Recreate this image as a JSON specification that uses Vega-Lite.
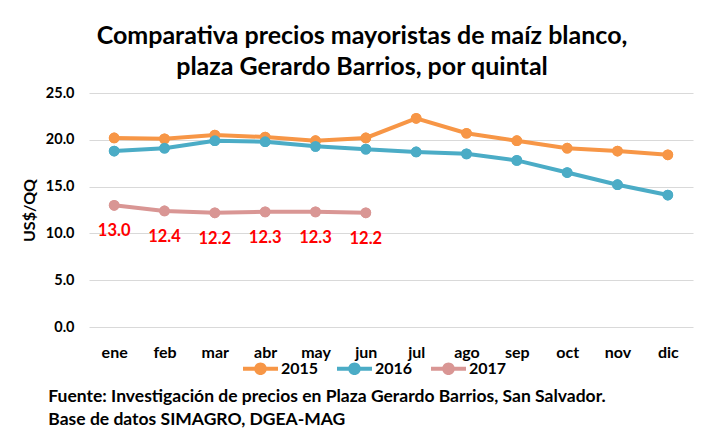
{
  "$schema": "https://vega.github.io/schema/vega-lite/v6.json",
  "padding": {"left": 21, "top": 24, "right": 5, "bottom": 0},
  "background": "white",
  "config": {
    "font": "Lato",
    "view": {"stroke": null},
    "concat": {"spacing": 0}
  },
  "title": {
    "text": ["Fuente: Investigación de precios en Plaza Gerardo Barrios, San Salvador.", "Base de datos SIMAGRO, DGEA-MAG"],
    "orient": "bottom",
    "anchor": "start",
    "font": "Lato",
    "fontSize": 17.5,
    "fontWeight": "bold",
    "color": "#000000",
    "lineHeight": 23,
    "dx": 27,
    "offset": 11
  },
  "vconcat": [
    {
      "title": {
        "text": ["Comparativa precios mayoristas de maíz blanco,", "plaza Gerardo Barrios, por quintal"],
        "font": "Lato",
        "fontSize": 25,
        "fontWeight": "bold",
        "color": "#000000",
        "lineHeight": 31,
        "anchor": "middle",
        "dx": -29,
        "offset": 5
      },
      "width": 604,
      "height": 234,
      "data": {
        "values": [
          {"mes": "ene", "anio": "2015", "precio": 20.2},
          {"mes": "feb", "anio": "2015", "precio": 20.1},
          {"mes": "mar", "anio": "2015", "precio": 20.5},
          {"mes": "abr", "anio": "2015", "precio": 20.3},
          {"mes": "may", "anio": "2015", "precio": 19.9},
          {"mes": "jun", "anio": "2015", "precio": 20.2},
          {"mes": "jul", "anio": "2015", "precio": 22.3},
          {"mes": "ago", "anio": "2015", "precio": 20.7},
          {"mes": "sep", "anio": "2015", "precio": 19.9},
          {"mes": "oct", "anio": "2015", "precio": 19.1},
          {"mes": "nov", "anio": "2015", "precio": 18.8},
          {"mes": "dic", "anio": "2015", "precio": 18.4},
          {"mes": "ene", "anio": "2016", "precio": 18.8},
          {"mes": "feb", "anio": "2016", "precio": 19.1},
          {"mes": "mar", "anio": "2016", "precio": 19.9},
          {"mes": "abr", "anio": "2016", "precio": 19.8},
          {"mes": "may", "anio": "2016", "precio": 19.3},
          {"mes": "jun", "anio": "2016", "precio": 19.0},
          {"mes": "jul", "anio": "2016", "precio": 18.7},
          {"mes": "ago", "anio": "2016", "precio": 18.5},
          {"mes": "sep", "anio": "2016", "precio": 17.8},
          {"mes": "oct", "anio": "2016", "precio": 16.5},
          {"mes": "nov", "anio": "2016", "precio": 15.2},
          {"mes": "dic", "anio": "2016", "precio": 14.1},
          {"mes": "ene", "anio": "2017", "precio": 13.0},
          {"mes": "feb", "anio": "2017", "precio": 12.4},
          {"mes": "mar", "anio": "2017", "precio": 12.2},
          {"mes": "abr", "anio": "2017", "precio": 12.3},
          {"mes": "may", "anio": "2017", "precio": 12.3},
          {"mes": "jun", "anio": "2017", "precio": 12.2}
        ]
      },
      "encoding": {
        "x": {
          "field": "mes",
          "type": "ordinal",
          "sort": ["ene", "feb", "mar", "abr", "may", "jun", "jul", "ago", "sep", "oct", "nov", "dic"],
          "scale": {"type": "point", "padding": 0.5},
          "axis": {
            "title": null,
            "labelAngle": 0,
            "labelFontSize": 16,
            "labelFontWeight": "bold",
            "labelColor": "#000000",
            "labelPadding": 17,
            "domain": false,
            "ticks": false,
            "grid": false
          }
        },
        "y": {
          "field": "precio",
          "type": "quantitative",
          "scale": {"domain": [0, 25]},
          "axis": {
            "title": "US$/QQ",
            "titleFontSize": 16,
            "titleFontWeight": "bold",
            "titleColor": "#000000",
            "titlePadding": 8,
            "values": [0, 5, 10, 15, 20, 25],
            "format": ".1f",
            "labelFontSize": 14.5,
            "labelFontWeight": "bold",
            "labelColor": "#000000",
            "labelPadding": 15,
            "domain": false,
            "ticks": false,
            "grid": true,
            "gridColor": "#D9D9D9",
            "gridWidth": 1
          }
        },
        "color": {
          "field": "anio",
          "type": "nominal",
          "scale": {"domain": ["2015", "2016", "2017"], "range": ["#F79646", "#4BACC6", "#D99694"]},
          "legend": {
            "title": null,
            "orient": "none",
            "legendX": 154,
            "legendY": 258,
            "direction": "horizontal",
            "labelFontSize": 16,
            "labelFontWeight": "bold",
            "labelColor": "#000000",
            "labelOffset": 3,
            "symbolType": "M-1,-0.12 L1,-0.12 L1,0.12 L-1,0.12 Z M-0.36,0 A0.36,0.36 0 1,1 0.36,0 A0.36,0.36 0 1,1 -0.36,0 Z",
            "symbolSize": 1225,
            "symbolStrokeWidth": 0,
            "columnPadding": 18
          }
        }
      },
      "layer": [
        {"mark": {"type": "point", "filled": true, "size": 115, "opacity": 1}},
        {"mark": {"type": "line", "strokeWidth": 4}},
        {"mark": {"type": "point", "filled": true, "size": 115, "opacity": 1}},
        {
          "transform": [{"filter": "datum.anio == '2017'"}],
          "mark": {"type": "text", "dy": 26, "fontSize": 16.5, "fontWeight": "bold", "color": "#FF0000"},
          "encoding": {
            "text": {"field": "precio", "type": "quantitative", "format": ".1f"},
            "color": {"value": "#FF0000"}
          }
        }
      ]
    }
  ]
}
